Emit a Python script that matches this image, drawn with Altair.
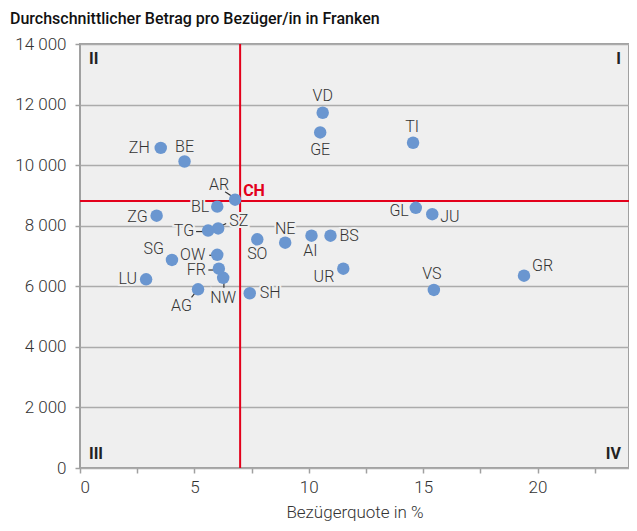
import altair as alt
import pandas as pd

# ---- data ----
cantons = ["ZH", "BE", "LU", "UR", "SZ", "OW", "NW", "GL", "ZG", "FR", "SO", "BS", "BL",
           "SH", "AR", "AI", "SG", "GR", "AG", "TG", "TI", "VD", "VS", "NE", "GE", "JU"]
quote = [3.53, 4.57, 2.89, 11.51, 6.04, 6.00, 6.26, 14.68, 3.35, 6.07, 7.75, 10.95, 6.00,
         7.42, 6.78, 10.12, 4.02, 19.41, 5.16, 5.60, 14.56, 10.61, 15.47, 8.97, 10.50, 15.40]
betrag = [10570, 10120, 6230, 6580, 7910, 7040, 6280, 8590, 8330, 6580, 7550, 7670, 8630,
          5770, 8860, 7670, 6870, 6350, 5900, 7840, 10740, 11730, 5880, 7440, 11080, 8380]
ch_quote = [7.0]
ch_betrag = [8820]
x_ticks = [0, 2.5, 5, 7.5, 10, 12.5, 15, 17.5, 20, 22.5]
y_ticks = [0, 2000, 4000, 6000, 8000, 10000, 12000, 14000]
quadrants = ["I", "II", "III", "IV"]

# ---- label placement (pixel nudges) ----
lab_align = {"ZH": "right", "BE": "center", "LU": "right", "UR": "right", "SZ": "left",
             "OW": "right", "NW": "center", "GL": "right", "ZG": "right", "FR": "right",
             "SO": "center", "BS": "left", "BL": "right", "SH": "left", "AR": "center",
             "AI": "center", "SG": "right", "GR": "left", "AG": "center", "TG": "right",
             "TI": "center", "VD": "center", "VS": "center", "NE": "center", "GE": "center",
             "JU": "left"}
lab_dxdy = {"ZH": (-11, 0), "BE": (0, -14.5), "LU": (-9, 0), "UR": (-9, 8), "SZ": (11, -7.5),
            "OW": (-12, 0), "NW": (0, 20), "GL": (-7, 3.5), "ZG": (-9, 1), "FR": (-13, 1),
            "SO": (0, 15), "BS": (9, 0), "BL": (-8, 0), "SH": (10, 0), "AR": (-16, -15),
            "AI": (-1, 15), "SG": (-8, -11), "GR": (8, -10), "AG": (-16.5, 16.5), "TG": (-14, 0),
            "TI": (-1, -16), "VD": (0, -17), "VS": (-2, -16), "NE": (0, -14), "GE": (0, 17.5),
            "JU": (8, 2.5)}
leaders = {"AR": (-10, -8, -4, -4), "TG": (-12, 1, -3, 1), "SZ": (2, -2, 8, -5),
           "OW": (-8, 0.5, -3, 0.5), "FR": (-10.5, 1.3, -3, 1.3), "NW": (0.7, 4, 0.7, 10),
           "AG": (-2.7, 3.4, -6.5, 8)}

df = pd.DataFrame({"Kanton": cantons, "Quote": quote, "Betrag": betrag})
ch_df = pd.DataFrame({"Quote": ch_quote, "Betrag": ch_betrag, "label": ["CH"]})

BG = "#efefef"
BLUE = "#6a96d0"
RED = "#e3001b"
TXT = "#333333"
FONT = "Roboto"

x_scale = alt.Scale(domain=[0, 24], nice=False, zero=False)
y_scale = alt.Scale(domain=[0, 14000], nice=False, zero=False)

x_axis = alt.Axis(values=x_ticks, title="Bezügerquote in %",
                  labelExpr="datum.value % 5 === 0 ? datum.label : ''",
                  grid=False, domain=False, tickSize=5, labelPadding=6,
                  titlePadding=9)
y_axis = alt.Axis(values=y_ticks, title=None,
                  labelExpr="replace(format(datum.value, ','), ',', ' ')",
                  grid=True, domain=False, tickSize=5, labelPadding=9)
X = alt.X("Quote:Q", scale=x_scale, axis=x_axis)
Y = alt.Y("Betrag:Q", scale=y_scale, axis=y_axis)

layers = []

# red reference lines (CH average)
layers.append(alt.Chart(ch_df).mark_rule(color=RED, strokeWidth=2).encode(x=X))
layers.append(alt.Chart(ch_df).mark_rule(color=RED, strokeWidth=2).encode(y=Y))

# leader lines
for k, (a, b, c, d) in leaders.items():
    layers.append(
        alt.Chart(df).transform_filter(alt.datum.Kanton == k)
        .mark_rule(color=TXT, strokeWidth=1.2, xOffset=a, yOffset=b, x2Offset=c, y2Offset=d)
        .encode(x=X, y=Y, x2=alt.X2("Quote:Q"), y2=alt.Y2("Betrag:Q"))
    )

# halo behind labels
for k in cantons:
    dx, dy = lab_dxdy[k]
    layers.append(
        alt.Chart(df).transform_filter(alt.datum.Kanton == k)
        .mark_text(align=lab_align[k], baseline="middle", dx=dx, dy=dy, font=FONT,
                   fontSize=16, fontWeight=300, color=BG, stroke=BG, strokeWidth=4)
        .encode(x=X, y=Y, text="Kanton:N")
    )
layers.append(
    alt.Chart(ch_df).mark_text(align="left", baseline="middle", dx=3, dy=-10, font=FONT,
                               fontSize=16, fontWeight="bold", color=BG, stroke=BG,
                               strokeWidth=4)
    .encode(x=X, y=Y, text="label:N")
)

# points
layers.append(
    alt.Chart(df).mark_circle(size=155, color=BLUE, opacity=1).encode(
        x=X, y=Y, tooltip=["Kanton", "Quote", "Betrag"])
)

# labels
for k in cantons:
    dx, dy = lab_dxdy[k]
    layers.append(
        alt.Chart(df).transform_filter(alt.datum.Kanton == k)
        .mark_text(align=lab_align[k], baseline="middle", dx=dx, dy=dy, font=FONT,
                   fontSize=16, fontWeight=300, color=TXT)
        .encode(x=X, y=Y, text="Kanton:N")
    )
layers.append(
    alt.Chart(ch_df).mark_text(align="left", baseline="middle", dx=3, dy=-10, font=FONT,
                               fontSize=16, fontWeight="bold", color=RED)
    .encode(x=X, y=Y, text="label:N")
)

# quadrant labels
q_df = pd.DataFrame({"q": quadrants,
                     "Quote": [24, 0, 0, 24],
                     "Betrag": [14000, 14000, 0, 0]})
q_pos = {"I": ("right", -8, 15), "II": ("left", 9, 15),
         "III": ("left", 9, -14.5), "IV": ("right", -8, -14.5)}
for q in quadrants:
    al, dx, dy = q_pos[q]
    layers.append(
        alt.Chart(q_df).transform_filter(alt.datum.q == q)
        .mark_text(align=al, baseline="middle", dx=dx, dy=dy, font=FONT, fontSize=16,
                   fontWeight="bold", color="#222222")
        .encode(x=X, y=Y, text="q:N")
    )

chart = alt.layer(*layers).properties(
    width=549, height=424,
    autosize=alt.AutoSizeParams(type="none"),
    padding={"left": 72, "top": 36, "right": 0, "bottom": 55},
    title=alt.TitleParams("Durchschnittlicher Betrag pro Bezüger/in in Franken",
                          anchor="start", frame="group", dx=-70, offset=8, font=FONT,
                          fontSize=16, fontWeight=500, color="#111111"),
).configure_view(
    fill=BG, stroke="#a0a0a0", strokeWidth=2
).configure_axis(
    labelFont=FONT, labelFontSize=17, labelFontWeight=300, labelColor=TXT,
    titleFont=FONT, titleFontSize=17, titleColor=TXT, titleFontWeight=300,
    tickColor="#a0a0a0", tickWidth=1.5,
    gridColor="#ababab", gridWidth=1.5,
)

chart.save("out.html", embed_options={"renderer": "svg", "actions": False})
